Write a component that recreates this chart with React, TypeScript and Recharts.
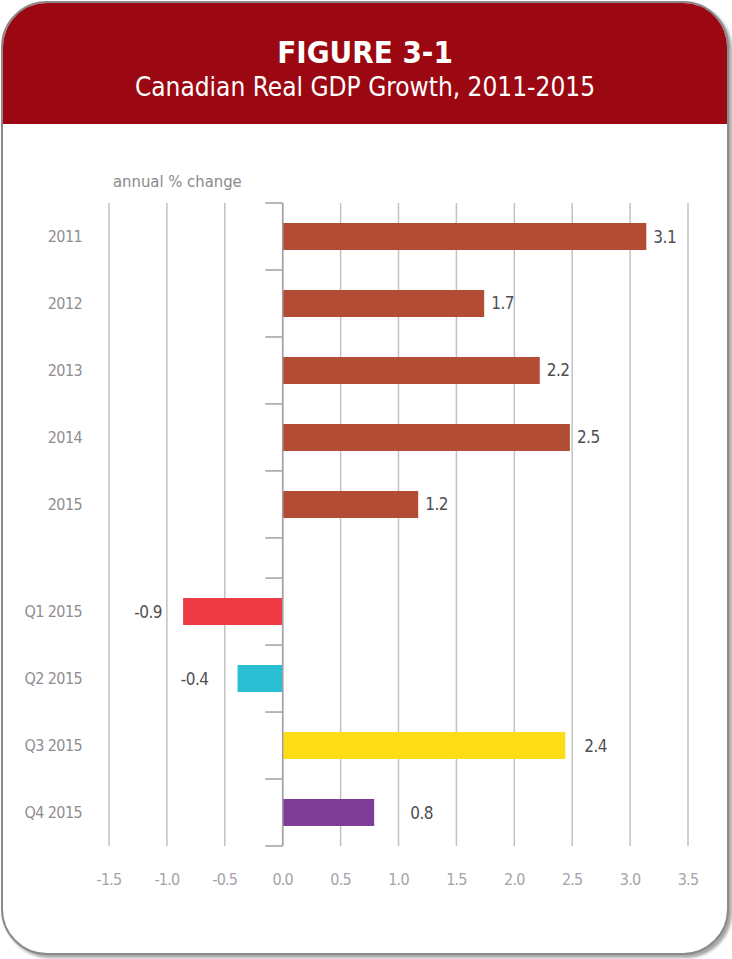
import React from "react";
import { BarChart, Bar, XAxis, YAxis, CartesianGrid, Cell, LabelList, ReferenceLine } from "recharts";

const annualLabels = ["2011", "2012", "2013", "2014", "2015"];
const annualValues = [3.14, 1.74, 2.22, 2.48, 1.17];
const quarterLabels = ["Q1 2015", "Q2 2015", "Q3 2015", "Q4 2015"];
const quarterValues = [-0.86, -0.39, 2.44, 0.79];
const xTicks = [-1.5, -1.0, -0.5, 0.0, 0.5, 1.0, 1.5, 2.0, 2.5, 3.0, 3.5];

const ANNUAL_COLOR = "#b34c35";
const QUARTER_COLORS = ["#ee3a43", "#2bbfd4", "#fedc16", "#7d3c96"];
const GROUP_GAP = 0.6;
const LABEL_GAPS = [7, 7, 7, 7, 7, 21, 29, 19, 36];

const FONT = "'DejaVu Sans', sans-serif";
const COND: React.CSSProperties = { fontStretch: "condensed" };

const data = [
  ...annualLabels.map((name, i) => ({ name, value: annualValues[i], pos: i + 0.5, color: ANNUAL_COLOR })),
  ...quarterLabels.map((name, j) => ({
    name,
    value: quarterValues[j],
    pos: annualLabels.length + GROUP_GAP + j + 0.5,
    color: QUARTER_COLORS[j],
  })),
];
const yMax = annualLabels.length + GROUP_GAP + quarterLabels.length;
const boundaries = [
  ...annualLabels.map((_, i) => i),
  annualLabels.length,
  ...quarterLabels.map((_, j) => annualLabels.length + GROUP_GAP + j),
  yMax,
];
const centers = data.map((d) => d.pos);
const nameAt = (v: number) => {
  const d = data.find((e) => Math.abs(e.pos - v) < 1e-6);
  return d ? d.name : "";
};

const ValueLabel = (props: any) => {
  const { x, y, width, height, value, index } = props;
  const gap = LABEL_GAPS[index] ?? 7;
  const right = Math.max(x, x + width);
  const left = Math.min(x, x + width);
  const neg = value < 0;
  return (
    <text
      x={neg ? left - gap : right + gap}
      y={y + height / 2}
      textAnchor={neg ? "end" : "start"}
      dominantBaseline="central"
      fill="#4f4f52"
      fontSize={17}
      fontFamily={FONT}
      style={{ ...COND, letterSpacing: -0.5 }}
    >
      {Number(value).toFixed(1)}
    </text>
  );
};

export default function App() {
  return (
    <div style={{ position: "absolute", left: 0, top: 0, width: 732, height: 959, background: "#fff" }}>
      <div
        style={{
          position: "absolute",
          left: 1,
          top: 1,
          width: 724,
          height: 950,
          border: "2px solid #8a8a8a",
          borderRadius: 46,
          boxShadow: "3px 3px 3px rgba(0,0,0,0.35)",
          overflow: "hidden",
          background: "#fff",
        }}
      >
        <div
          style={{
            position: "absolute",
            left: 0,
            top: 0,
            width: "100%",
            height: 121,
            background: "#9c0811",
            color: "#fff",
            textAlign: "center",
            fontFamily: FONT,
            ...COND,
          }}
        >
          <div style={{ position: "absolute", top: 29, width: "100%", fontSize: 31, fontWeight: 700, lineHeight: "40px", ...COND }}>
            FIGURE 3-1
          </div>
          <div style={{ position: "absolute", top: 68, width: "100%", fontSize: 26, lineHeight: "32px", ...COND }}>
            Canadian Real GDP Growth, 2011-2015
          </div>
        </div>
      </div>
      <div
        style={{
          position: "absolute",
          left: 113,
          top: 172,
          fontFamily: FONT,
          fontSize: 16.5,
          color: "#8a8a8e",
          ...COND,
        }}
      >
        annual % change
      </div>
      <div style={{ position: "absolute", left: 0, top: 0 }}>
        <BarChart
          width={732}
          height={959}
          data={data}
          layout="vertical"
          margin={{ top: 203, right: 44, bottom: 79, left: 0 }}
        >
          <CartesianGrid vertical horizontal={false} stroke="#c2c2c6" strokeWidth={1.5} />
          <XAxis
            type="number"
            domain={[-1.5, 3.5]}
            ticks={xTicks}
            axisLine={false}
            tickLine={false}
            tickSize={0}
            tickMargin={28}
            height={34}
            allowDataOverflow
            tickFormatter={(v: number) => v.toFixed(1)}
            tick={{ fill: "#a4a4aa", fontSize: 16, fontFamily: FONT, style: { ...COND, letterSpacing: -0.8 } }}
          />
          <YAxis
            type="number"
            dataKey="pos"
            domain={[0, yMax]}
            ticks={centers}
            width={109}
            axisLine={false}
            tickLine={false}
            tickSize={0}
            tickMargin={27}
            interval={0}
            allowDataOverflow
            tickFormatter={nameAt}
            tick={{ fill: "#8e8e92", fontSize: 16, fontFamily: FONT, style: { ...COND, letterSpacing: -0.6 } }}
          />
          <ReferenceLine x={0} stroke="#a0a0a4" strokeWidth={1.5} />
          {boundaries.map((b) => (
            <ReferenceLine
              key={b}
              segment={[
                { x: -0.15, y: b },
                { x: 0, y: b },
              ]}
              stroke="#a0a0a4"
              strokeWidth={1.5}
            />
          ))}
          <Bar dataKey="value" barSize={27} isAnimationActive={false}>
            {data.map((d, i) => (
              <Cell key={i} fill={d.color} />
            ))}
            <LabelList dataKey="value" content={ValueLabel} />
          </Bar>
        </BarChart>
      </div>
    </div>
  );
}
